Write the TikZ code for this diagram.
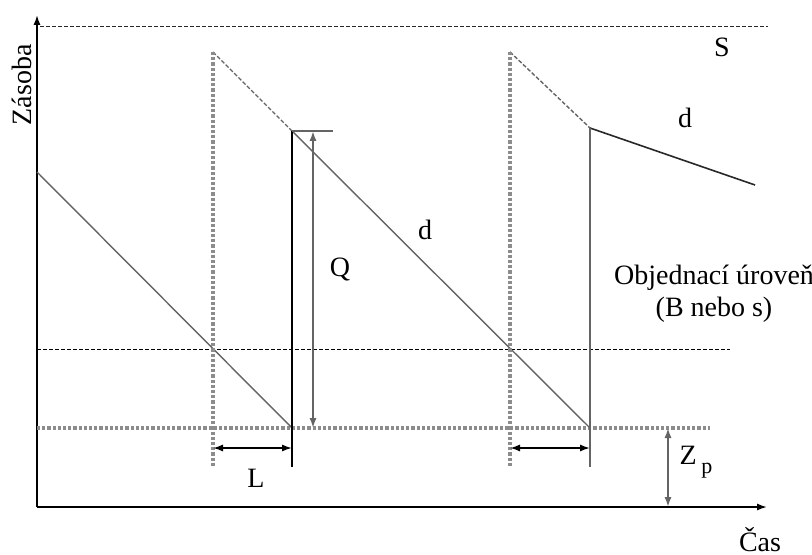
\documentclass[tikz,border=0pt]{standalone}
\usepackage{fontspec}
\setmainfont{Liberation Serif}
\usepackage{tikz}
\usetikzlibrary{arrows.meta,calc,positioning}
\definecolor{LevelGray}{RGB}{140,140,140}
\definecolor{SawGray}{RGB}{100,100,100}
\definecolor{DarkLine}{RGB}{40,40,40}
\tikzset{
  axis/.style={line width=0.9pt,-{Latex[length=5pt,width=3.6pt]}},
  graydots/.style={LevelGray,line width=1.6pt,dash pattern=on 1.6pt off 1pt},
  thindash/.style={DarkLine,line width=0.5pt,dash pattern=on 2pt off 1pt},
  saw/.style={SawGray,line width=0.7pt},
  dimarrow/.style={{Latex[length=5pt,width=3.6pt]}-{Latex[length=5pt,width=3.6pt]}},
  lbl/.style={inner sep=0pt,font=\fontsize{14}{16}\selectfont}
}

\begin{document}
\begin{tikzpicture}[x=0.5pt,y=-0.5pt]
  \useasboundingbox (0,0) rectangle (812,555);
  % axes
  \coordinate (O) at (37,507);
  \coordinate (ytip) at (37,15);
  \coordinate (xtip) at (767,507);
  \draw[axis] (O) -- (ytip);
  \draw[axis] (O) -- (xtip);
  \node[lbl,rotate=90] (zasoba) at (22,85) {Zásoba};
  \node[lbl] (cas) at (760,540) {Čas};

  % levels: S, order level, safety stock
  \coordinate (sL) at (40,27);   \coordinate (sR) at (768,27);
  \coordinate (bL) at (37,349);  \coordinate (bR) at (730,349);
  \coordinate (zL) at (37,428);  \coordinate (zR) at (710,428);
  \draw[thindash] (sL) -- (sR);
  \draw[thindash,black] (bL) -- (bR);
  \draw[graydots] (zL) -- (zR);

  % saw teeth
  \coordinate (start) at (37,172);
  \coordinate (low1) at (292,428);
  \coordinate (top1) at (213,52);
  \coordinate (peak1) at (292,131);
  \coordinate (low2) at (590,428);
  \coordinate (top2) at (510,52);
  \coordinate (peak2) at (590,128);
  \coordinate (end) at (755,185);
  \draw[saw] (start) -- (low1);
  \draw[saw,dash pattern=on 2pt off 1pt] (top1) -- (peak1);
  \draw[saw] (peak1) -- (low2);
  \draw[saw,dash pattern=on 2pt off 1pt] (top2) -- (peak2);
  \draw[DarkLine,line width=0.8pt] (peak2) -- (end);

  % verticals
  \draw[graydots] (top1) -- (213,467);
  \draw[graydots] (top2) -- (510,467);
  \draw[line width=0.9pt] (peak1) -- (292,467);
  \draw[SawGray,line width=1.1pt] (peak2) -- (590,467);
  \draw[SawGray,line width=1.1pt] (peak1) -- (333,131);

  % dimensions
  \draw[dimarrow,SawGray,line width=1.1pt] (313,131) -- (313,428);
  \draw[dimarrow,line width=0.9pt] (213,448) -- (292,448);
  \draw[dimarrow,line width=0.9pt] (510,448) -- (590,448);
  \draw[dimarrow,SawGray,line width=1.1pt] (668,428) -- (O -| 668,0);

  % labels
  \node[lbl] (Q) at (340,270) {Q};
  \node[lbl] (L) at (256,478) {L};
  \node[lbl] (d1) at (425,230) {d};
  \node[lbl] (d2) at (685,118) {d};
  \node[lbl] (S) at (722,47) {S};
  \node[lbl] (zp) at (696,462) {Z\,\raisebox{-0.7ex}{\fontsize{11}{12}\selectfont p}};
  \node[lbl,align=center] (ou) at (714,294) {Objednací úroveň\\(B nebo s)};
\end{tikzpicture}
\end{document}
